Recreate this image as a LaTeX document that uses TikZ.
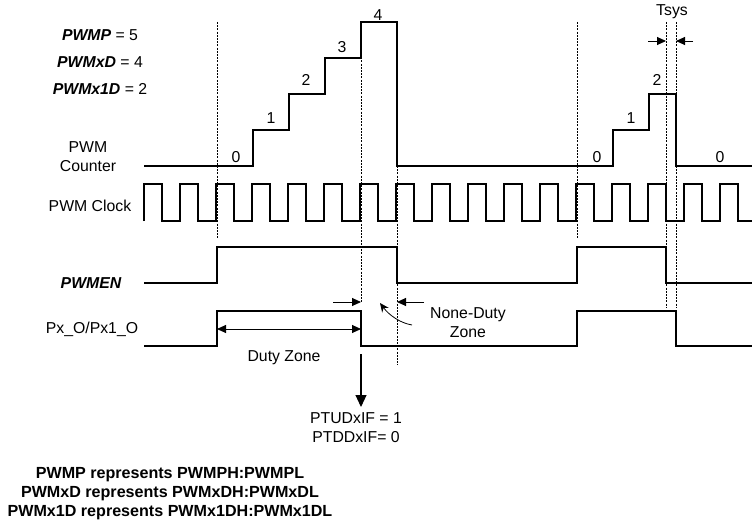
\documentclass[tikz,border=0pt]{standalone}
\usepackage{fontspec}
\setmainfont{Liberation Sans}
\usetikzlibrary{arrows.meta}
\begin{document}
\begin{tikzpicture}[x=1pt,y=-1pt,
  sig/.style={line width=1.1pt, line join=miter},
  guide/.style={line width=0.6pt, dash pattern=on 2pt off 1.2pt},
  lbl/.style={font=\fontsize{15.8}{19}\selectfont, inner sep=0pt, align=center},
  blbl/.style={font=\fontsize{15.8}{19}\selectfont\bfseries\itshape, inner sep=0pt},
  btxt/.style={font=\fontsize{16.1}{19}\selectfont\bfseries, inner sep=0pt, align=center},
  tip/.style={-{Triangle[length=9pt,width=8pt]}, line width=0.9pt},
  bigtip/.style={-{Triangle[length=12pt,width=11pt]}, line width=1.1pt}]
\useasboundingbox (0,0) rectangle (752,527);

% guide lines
\draw[guide] (217,22) -- (217,238);
\draw[guide] (361,22) -- (361,303);
\draw[guide] (397,22) -- (397,365);
\draw[guide] (577,22) -- (577,238);
\draw[guide] (666,22) -- (666,308);
\draw[guide] (676,22) -- (676,308);

% left labels
\node[lbl] (pwmp) at (100,35) {\textbf{\textit{PWMP}} = 5};
\node[lbl] (pwmxd) at (100,62) {\textbf{\textit{PWMxD}} = 4};
\node[lbl] (pwmx1d) at (100,89) {\textbf{\textit{PWMx1D}} = 2};
\node[lbl] (cntlbl) at (88,157) {PWM\\Counter};
\node[lbl] (clklbl) at (90,206) {PWM Clock};
\node[blbl] (enlbl) at (91,283) {PWMEN};
\node[lbl] (pxlbl) at (92,329) {Px\_O/Px1\_O};

% PWM counter
\draw[sig] (144,166) -- (253,166) -- (253,130) -- (289,130) -- (289,94) -- (325,94)
  -- (325,58) -- (361,58) -- (361,22) -- (397,22) -- (397,166) -- (613,166)
  -- (613,130) -- (649,130) -- (649,94) -- (676,94) -- (676,166) -- (752,166);
\node[lbl] (c0) at (236,157) {0};
\node[lbl] (c1) at (271,118) {1};
\node[lbl] (c2) at (306,80) {2};
\node[lbl] (c3) at (342,47) {3};
\node[lbl] (c4) at (378,15) {4};
\node[lbl] (d0) at (597,157) {0};
\node[lbl] (d1) at (631,118) {1};
\node[lbl] (d2) at (657,80) {2};
\node[lbl] (d3) at (720,157) {0};

% PWM clock
\draw[sig] (144,221) foreach \k in {0,...,15} {
  -- ({144+36*\k},184) -- ({162+36*\k},184) -- ({162+36*\k},221) -- ({180+36*\k},221) }
  -- (720,184) -- (738,184) -- (738,221) -- (752,221);

% PWMEN
\draw[sig] (144,283) -- (217,283) -- (217,247) -- (397,247) -- (397,283) -- (577,283)
  -- (577,247) -- (666,247) -- (666,283) -- (752,283);

% Px_O
\draw[sig] (144,346) -- (217,346) -- (217,311) -- (361,311) -- (361,346) -- (577,346)
  -- (577,311) -- (676,311) -- (676,346) -- (752,346);

% Duty zone
\coordinate (dzl) at (217,329);
\coordinate (dzr) at (361,329);
\draw[{Triangle[length=9pt,width=8pt]}-{Triangle[length=9pt,width=8pt]}, line width=0.9pt] (dzl) -- (dzr);
\node[lbl] (dz) at (284,358) {Duty Zone};

% None-duty zone
\coordinate (nda) at (333,302);
\coordinate (ndb) at (361,302);
\coordinate (ndc) at (424,302);
\coordinate (ndd) at (397,302);
\draw[tip] (nda) -- (ndb);
\draw[tip] (ndc) -- (ndd);
\coordinate (cva) at (412,325);
\coordinate (cvb) at (380,303);
\draw[-{Stealth[length=9pt,width=8pt]}, line width=0.8pt] (cva) .. controls (400,323) and (389,315) .. (cvb);
\node[lbl] (ndz) at (468,323) {None-Duty\\Zone};

% Flag arrow
\coordinate (fa) at (361,354);
\node[lbl, anchor=north] (flags) at (356,412) {PTUDxIF = 1\\PTDDxIF= 0};
\draw[bigtip] (fa) -- (361,407);

% Tsys
\node[lbl] (tsys) at (672,12) {Tsys};
\coordinate (ta) at (648,41);
\coordinate (tb) at (666,41);
\coordinate (tc) at (693,41);
\coordinate (td) at (676,41);
\draw[tip] (ta) -- (tb);
\draw[tip] (tc) -- (td);

% bottom notes
\node[btxt] (notes) at (170,494) {PWMP represents PWMPH:PWMPL\\PWMxD represents PWMxDH:PWMxDL\\PWMx1D represents PWMx1DH:PWMx1DL};
\end{tikzpicture}
\end{document}
